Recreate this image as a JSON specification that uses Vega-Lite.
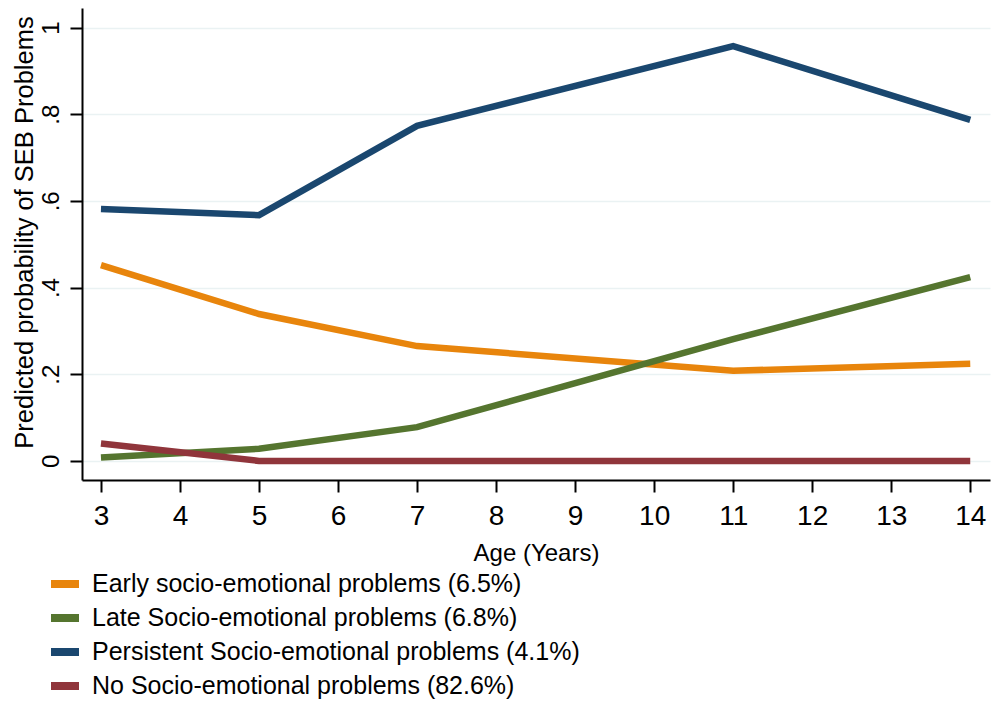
{
  "$schema": "https://vega.github.io/schema/vega-lite/v6.json",
  "width": 908,
  "height": 472,
  "autosize": {"type": "none"},
  "padding": {"left": 82, "top": 8, "right": 1, "bottom": 224},
  "background": "white",
  "config": {
    "view": {"stroke": null},
    "font": "Liberation Sans"
  },
  "data": {
    "values": [
      {"age": 3, "p": 0.452, "group": "Early socio-emotional problems (6.5%)"},
      {"age": 5, "p": 0.339, "group": "Early socio-emotional problems (6.5%)"},
      {"age": 7, "p": 0.265, "group": "Early socio-emotional problems (6.5%)"},
      {"age": 11, "p": 0.208, "group": "Early socio-emotional problems (6.5%)"},
      {"age": 14, "p": 0.224, "group": "Early socio-emotional problems (6.5%)"},
      {"age": 3, "p": 0.008, "group": "Late Socio-emotional problems (6.8%)"},
      {"age": 5, "p": 0.028, "group": "Late Socio-emotional problems (6.8%)"},
      {"age": 7, "p": 0.078, "group": "Late Socio-emotional problems (6.8%)"},
      {"age": 11, "p": 0.281, "group": "Late Socio-emotional problems (6.8%)"},
      {"age": 14, "p": 0.424, "group": "Late Socio-emotional problems (6.8%)"},
      {"age": 3, "p": 0.581, "group": "Persistent Socio-emotional problems (4.1%)"},
      {"age": 5, "p": 0.567, "group": "Persistent Socio-emotional problems (4.1%)"},
      {"age": 7, "p": 0.773, "group": "Persistent Socio-emotional problems (4.1%)"},
      {"age": 11, "p": 0.957, "group": "Persistent Socio-emotional problems (4.1%)"},
      {"age": 14, "p": 0.787, "group": "Persistent Socio-emotional problems (4.1%)"},
      {"age": 3, "p": 0.040, "group": "No Socio-emotional problems (82.6%)"},
      {"age": 5, "p": 0.0, "group": "No Socio-emotional problems (82.6%)"},
      {"age": 7, "p": 0.0, "group": "No Socio-emotional problems (82.6%)"},
      {"age": 11, "p": 0.0, "group": "No Socio-emotional problems (82.6%)"},
      {"age": 14, "p": 0.0, "group": "No Socio-emotional problems (82.6%)"}
    ]
  },
  "mark": {"type": "line", "strokeWidth": 6.5, "strokeCap": "butt", "strokeJoin": "miter"},
  "encoding": {
    "x": {
      "field": "age",
      "type": "quantitative",
      "scale": {"domain": [2.76, 14.25], "nice": false, "zero": false},
      "axis": {
        "values": [3, 4, 5, 6, 7, 8, 9, 10, 11, 12, 13, 14],
        "title": "Age (Years)",
        "grid": false,
        "domainColor": "black",
        "domainWidth": 2,
        "tickColor": "black",
        "tickWidth": 2,
        "tickSize": 12,
        "labelFontSize": 28,
        "labelColor": "black",
        "labelPadding": 10,
        "titleFontSize": 24,
        "titleFontWeight": "normal",
        "titleColor": "black",
        "titlePadding": 11
      }
    },
    "y": {
      "field": "p",
      "type": "quantitative",
      "scale": {"domain": [-0.044, 1.045], "nice": false, "zero": false},
      "axis": {
        "values": [0, 0.2, 0.4, 0.6, 0.8, 1],
        "labelExpr": "datum.value == 0 ? '0' : (datum.value == 1 ? '1' : replace(format(datum.value, '.1f'), '0.', '.'))",
        "title": "Predicted probability of SEB Problems",
        "grid": true,
        "gridColor": "#eaf2f3",
        "gridWidth": 1.5,
        "domainColor": "black",
        "domainWidth": 2,
        "tickColor": "black",
        "tickWidth": 2,
        "tickSize": 12,
        "labelFontSize": 24,
        "labelColor": "black",
        "labelAngle": 270,
        "labelAlign": "center",
        "labelBaseline": "alphabetic",
        "labelPadding": 12,
        "titleFontSize": 25.5,
        "titleFontWeight": "normal",
        "titleColor": "black",
        "titleAngle": 270,
        "titleBaseline": "alphabetic",
        "titleX": -50,
        "titleY": 224
      }
    },
    "color": {
      "field": "group",
      "type": "nominal",
      "sort": null,
      "scale": {
        "domain": [
          "Early socio-emotional problems (6.5%)",
          "Late Socio-emotional problems (6.8%)",
          "Persistent Socio-emotional problems (4.1%)",
          "No Socio-emotional problems (82.6%)"
        ],
        "range": ["#e8850c", "#55752f", "#1a476f", "#90353b"]
      },
      "legend": {
        "title": null,
        "orient": "none",
        "legendX": -35,
        "legendY": 558,
        "direction": "vertical",
        "padding": 0,
        "symbolType": "stroke",
        "symbolSize": 784,
        "symbolStrokeWidth": 8,
        "labelFontSize": 25,
        "labelColor": "black",
        "labelOffset": 9,
        "rowPadding": 0,
        "labelLimit": 800
      }
    },
    "order": {"field": "age", "type": "quantitative"}
  }
}
